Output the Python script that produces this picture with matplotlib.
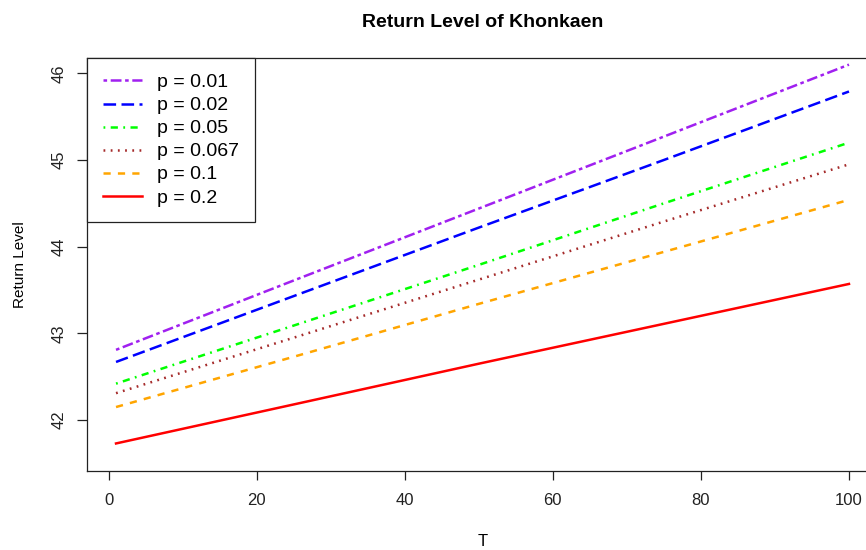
import matplotlib
matplotlib.use("Agg")
import matplotlib.pyplot as plt

plt.rcParams['font.family'] = ['Liberation Sans', 'DejaVu Sans']

# Return levels at a few values of T
T = [1, 25, 50, 75, 100]
rl_001 = [42.81, 43.61, 44.44, 45.27, 46.10]
rl_002 = [42.67, 43.43, 44.22, 45.00, 45.79]
rl_005 = [42.42, 43.09, 43.79, 44.50, 45.20]
rl_0067 = [42.31, 42.95, 43.62, 44.29, 44.95]
rl_01 = [42.15, 42.73, 43.34, 43.94, 44.54]
rl_02 = [41.73, 42.18, 42.65, 43.11, 43.57]

labels = ["p = 0.01", "p = 0.02", "p = 0.05", "p = 0.067", "p = 0.1", "p = 0.2"]
series = [rl_001, rl_002, rl_005, rl_0067, rl_01, rl_02]
colors = ["#A020F0", "#0000FF", "#00FF00", "#A52A2A", "#FFA500", "#FF0000"]

# R line types (twodash, longdash, dotdash, dotted, dashed, solid), scaled to lw
k = 0.72
styles = [
    (0, (2 * k, 2 * k, 6 * k, 2 * k)),
    (0, (7 * k, 3 * k)),
    (0, (1 * k, 3 * k, 4 * k, 3 * k)),
    (0, (1 * k, 3 * k)),
    (0, (4 * k, 4 * k)),
    "solid",
]

fig = plt.figure(figsize=(8.66, 5.5), dpi=100)
ax = fig.add_axes([0.1008, 0.1436, 0.9134, 0.7504])

for y, lab, c, ls in zip(series, labels, colors, styles):
    ax.plot(T, y, color=c, linestyle=ls, linewidth=1.8, label=lab)

ax.set_xlim(-2.88, 103.96)
ax.set_ylim(41.412, 46.173)
ax.set_xticks([0, 20, 40, 60, 80, 100])
ax.set_yticks([42, 43, 44, 45, 46])

for s in ax.spines.values():
    s.set_linewidth(0.9)
    s.set_color("#222222")

ax.tick_params(axis='x', direction='out', length=6.5, width=0.9, pad=9,
               labelsize=12, colors="#222222")
ax.tick_params(axis='y', direction='out', length=7, width=0.9, pad=8,
               labelsize=12, colors="#222222")
for t in ax.get_yticklabels():
    t.set_rotation(90)
    t.set_va('center')

ax.set_title("Return Level of Khonkaen", fontsize=14, fontweight='bold', pad=22.5)
ax.set_xlabel("T", fontsize=12)
ax.xaxis.set_label_coords(0.5, -0.153)
ax.set_ylabel("Return Level", fontsize=11)
ax.yaxis.set_label_coords(-0.076, 0.5)

leg = ax.legend(loc='upper left', fontsize=14, frameon=True, fancybox=False,
                edgecolor='#222222', framealpha=1, borderaxespad=0,
                handlelength=2.0, handletextpad=0.82, labelspacing=0.28,
                borderpad=0.79)
leg.get_frame().set_linewidth(0.9)

fig.savefig("out.png", dpi=100)
